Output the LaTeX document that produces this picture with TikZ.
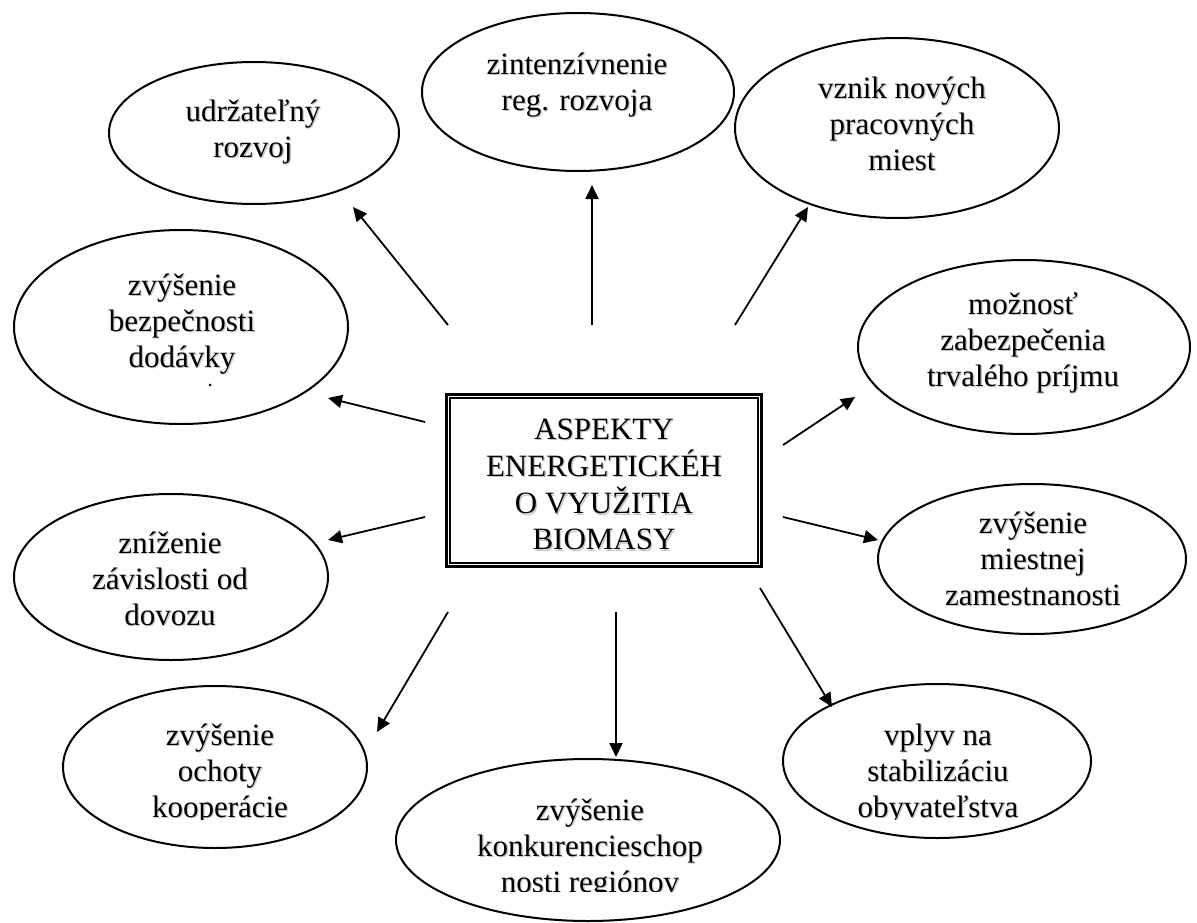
\documentclass[tikz,border=0pt]{standalone}
\usepackage{fontspec}
\setmainfont{Liberation Serif}
\usetikzlibrary{arrows.meta,shapes.geometric}

% centred lines of text with a faint drop shadow
\newcommand\sdtext[1]{%
  \makebox[0pt][l]{\hspace{1.3pt}\raisebox{-1.3pt}{\color{black!22}\begin{tabular}{@{}c@{}}#1\end{tabular}}}%
  \begin{tabular}{@{}c@{}}#1\end{tabular}}

\begin{document}
\begin{tikzpicture}[x=1pt,y=-1pt,
  bubble/.style={ellipse, draw, line width=2pt, inner sep=0pt},
  lbl/.style={font=\fontsize{31}{36}\selectfont, inner sep=0pt},
  arr/.style={-{Triangle[length=14pt,width=13pt]}, line width=1.8pt}]
\useasboundingbox (0,0) rectangle (1197,923);

% central box with a double frame
\node[draw, line width=3pt, minimum width=315pt, minimum height=172pt, inner sep=0pt] (core) at (604,480.5) {};
\draw[line width=1.8pt] ([xshift=5.3pt,yshift=-5.3pt]core.north west) rectangle ([xshift=-5.3pt,yshift=5.3pt]core.south east);
\node[lbl] (t-core) at (604,488) {\sdtext{ASPEKTY\\ENERGETICKÉH\\O VYUŽITIA\\BIOMASY}};

% surrounding ellipses
\node[bubble, minimum width=290pt, minimum height=142pt] (udr) at (254,133) {};
\node[bubble, minimum width=312pt, minimum height=158pt] (zin) at (578,92) {};
\node[bubble, minimum width=324pt, minimum height=180pt] (vzn) at (897,128) {};
\node[bubble, minimum width=332pt, minimum height=174pt] (moz) at (1024,347) {};
\node[bubble, minimum width=334pt, minimum height=194pt] (bez) at (181,327) {};
\node[bubble, minimum width=314pt, minimum height=166pt] (zni) at (171,577) {};
\node[bubble, minimum width=308pt, minimum height=150pt] (mie) at (1032,559) {};
\node[bubble, minimum width=304pt, minimum height=162pt] (och) at (215,767) {};
\node[bubble, minimum width=384pt, minimum height=162pt] (kon) at (588,840) {};
\node[bubble, minimum width=308pt, minimum height=154pt] (vpl) at (937,761) {};

% labels
\node[lbl] (t-udr) at (253,132.5) {\sdtext{udržateľný\\rozvoj}};
\node[lbl] (t-zin) at (577,85.5) {\sdtext{zintenzívnenie\\reg. rozvoja}};
\node[lbl] (t-vzn) at (902,128) {\sdtext{vznik nových\\pracovných\\miest}};
\node[lbl] (t-moz) at (1023,344) {\sdtext{možnosť\\zabezpečenia\\trvalého príjmu}};
\node[lbl] (t-bez) at (182,325) {\sdtext{zvýšenie\\bezpečnosti\\dodávky}};
\fill (210,385) circle (1.5pt);
\node[lbl] (t-zni) at (170,583) {\sdtext{zníženie\\závislosti od\\dovozu}};
\node[lbl] (t-mie) at (1033,563) {\sdtext{zvýšenie\\miestnej\\zamestnanosti}};
\begin{scope}
  \clip (0,0) rectangle (1197,819);
  \node[lbl] (t-och) at (220,775) {\sdtext{zvýšenie\\ochoty\\kooperácie}};
  \node[lbl] (t-vpl) at (938,775) {\sdtext{vplyv na\\stabilizáciu\\obyvateľstva}};
\end{scope}
\begin{scope}
  \clip (0,0) rectangle (1197,891);
  \node[lbl] (t-kon) at (590,850) {\sdtext{zvýšenie\\konkurencieschop\\nosti regiónov}};
\end{scope}

% arrows
\coordinate (s-udr) at (448,325); \coordinate (h-udr) at (353,207);
\coordinate (s-zin) at (592,325); \coordinate (h-zin) at (592,185);
\coordinate (s-vzn) at (735,325); \coordinate (h-vzn) at (808,207);
\coordinate (s-moz) at (783,445); \coordinate (h-moz) at (855,397);
\coordinate (s-bez) at (425,422); \coordinate (h-bez) at (328,398);
\coordinate (s-zni) at (425,517); \coordinate (h-zni) at (328,540);
\coordinate (s-mie) at (783,517); \coordinate (h-mie) at (878,540);
\coordinate (s-vpl) at (760,588); \coordinate (h-vpl) at (832,707);
\coordinate (s-och) at (448,612); \coordinate (h-och) at (377,732);
\coordinate (s-kon) at (616,612); \coordinate (h-kon) at (616,757);
\foreach \n in {udr,zin,vzn,moz,bez,zni,mie,vpl,och,kon}
  \draw[arr] (s-\n) -- (h-\n);
\end{tikzpicture}
\end{document}
